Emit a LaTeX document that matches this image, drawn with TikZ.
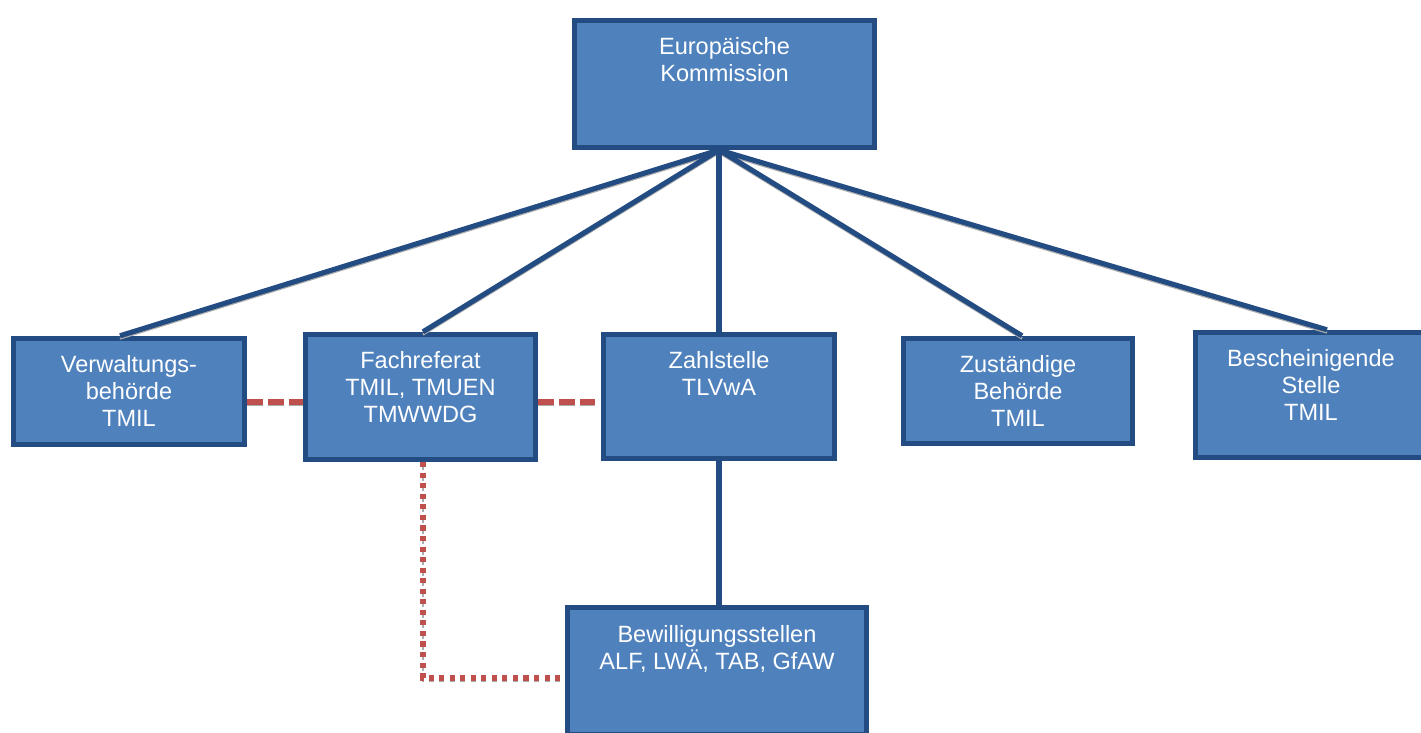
\documentclass[tikz,border=0pt]{standalone}
\usepackage{fontspec}
\setmainfont{Liberation Sans}
\definecolor{boxfill}{HTML}{4F81BD}
\definecolor{bdr}{HTML}{234C82}
\definecolor{redl}{HTML}{C0504D}
\begin{document}
\begin{tikzpicture}[x=0.02cm,y=-0.02cm,
  box/.style={draw=bdr, fill=boxfill, line width=3.1pt, inner sep=0pt},
  txt/.style={text=white, align=center, font=\fontsize{13.4}{15.3}\selectfont, inner sep=0pt, anchor=north},
  conn/.style={draw=bdr, line width=2.9pt},
  shad/.style={draw=gray!65, line width=1.3pt, transform canvas={yshift=-0.055cm}},
  reddash/.style={draw=redl, line width=2.9pt, dash pattern=on 8.8pt off 3.1pt},
  reddot/.style={draw=redl, line width=2.9pt, dash pattern=on 2.9pt off 3.1pt},
  shaddash/.style={draw=gray!65, line width=1.2pt, dash pattern=on 8.8pt off 3.1pt, transform canvas={yshift=-0.06cm}},
  shaddot/.style={draw=gray!65, line width=1.2pt, dash pattern=on 2.9pt off 3.1pt, transform canvas={yshift=-0.06cm}}]
\useasboundingbox (0,0) rectangle (1421,733);
\begin{scope}
\clip (0,0) rectangle (1421,733);
% boxes
\node[box, minimum width=6.0cm, minimum height=2.54cm] (ek) at (724.5,84) {};
\node[box, minimum width=4.62cm, minimum height=2.12cm] (verw) at (129,391.5) {};
\node[box, minimum width=4.6cm, minimum height=2.5cm] (fach) at (420.5,397) {};
\node[box, minimum width=4.62cm, minimum height=2.48cm] (zahl) at (719,396.5) {};
\node[box, minimum width=4.58cm, minimum height=2.10cm] (zust) at (1018,391) {};
\node[box, minimum width=4.62cm, minimum height=2.5cm] (besch) at (1311,395) {};
\node[box, minimum width=5.98cm, minimum height=2.54cm] (bew) at (717,671) {};
% texts
\node[txt] (tek) at (724.5,37) {Europäische\\Kommission};
\node[txt] (tverw) at (129,355) {Verwaltungs-\\behörde\\TMIL};
\node[txt] (tfach) at (420.5,351) {Fachreferat\\TMIL, TMUEN\\TMWWDG};
\node[txt] (tzahl) at (719,351) {Zahlstelle\\TLVwA};
\node[txt] (tzust) at (1018,355) {Zuständige\\Behörde\\TMIL};
\node[txt] (tbesch) at (1311,349) {Bescheinigende\\Stelle\\TMIL};
\node[txt] (tbew) at (717,625) {Bewilligungsstellen\\ALF, LWÄ, TAB, GfAW};
% helper coordinates
\coordinate (apex) at (719,150);
\coordinate (dashy) at (0,402);
\coordinate (dotc) at (423,678);
% connector shadows
\draw[shad] (apex) -- ([xshift=-0.18cm]verw.north);
\draw[shad] (apex) -- ([xshift=0.05cm]fach.north);
\draw[shad] (apex) -- ([xshift=0.08cm]zust.north);
\draw[shad] (apex) -- ([xshift=0.32cm]besch.north);
\draw[shaddash] (verw.east |- dashy) -- (fach.west |- dashy);
\draw[shaddash] (fach.east |- dashy) -- (zahl.west |- dashy);
\draw[shaddot] (fach.south -| dotc) -- (dotc) -- (bew.west |- dotc);
% connectors
\draw[conn] (apex) -- ([xshift=-0.18cm]verw.north);
\draw[conn] (apex) -- ([xshift=0.05cm]fach.north);
\draw[conn] (apex) -- (zahl.north);
\draw[conn] (apex) -- ([xshift=0.08cm]zust.north);
\draw[conn] (apex) -- ([xshift=0.32cm]besch.north);
\draw[conn] (zahl.south) -- (zahl.south |- bew.north);
\draw[reddash] (verw.east |- dashy) -- (fach.west |- dashy);
\draw[reddash] (fach.east |- dashy) -- (zahl.west |- dashy);
\draw[reddot] (fach.south -| dotc) -- (dotc) -- (bew.west |- dotc);
\end{scope}
\end{tikzpicture}
\end{document}
